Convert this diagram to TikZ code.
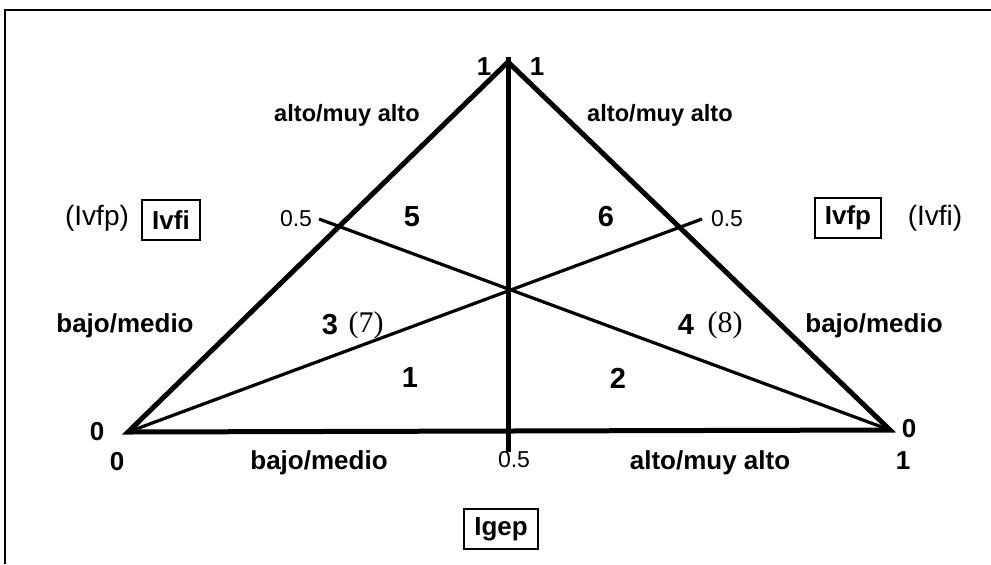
\documentclass[tikz,border=0pt]{standalone}
\usepackage{fontspec}
\setmainfont{Liberation Sans}
\newfontfamily\timesfont{Liberation Serif}

\begin{document}
\begin{tikzpicture}[x=0.5pt, y=-0.5pt,
  edge/.style={line width=2.5pt},
  split/.style={line width=1.6pt},
  lbl/.style={font=\fontsize{13}{15}\selectfont\bfseries},
  toplbl/.style={font=\fontsize{11.8}{14}\selectfont\bfseries},
  zone/.style={font=\fontsize{14.5}{17}\selectfont\bfseries},
  tick/.style={font=\fontsize{11.5}{13}\selectfont},
  alt/.style={font=\fontsize{14}{16}\selectfont},
  altserif/.style={font=\fontsize{15}{17}\selectfont\timesfont},
  axisbox/.style={draw, line width=1pt, font=\fontsize{13}{15}\selectfont\bfseries,
    minimum height=20pt, inner xsep=5pt, inner ysep=0pt}]
\useasboundingbox (0,0) rectangle (991,564);
\fill[white] (0,0) rectangle (991,564);
\draw[line width=1pt] (5,564) -- (5,10) -- (991,10);

\coordinate (apex) at (508,62);
\coordinate (left) at (128,432);
\coordinate (right) at (890,430);
\coordinate (tickL) at (319,219);
\coordinate (tickR) at (702,219);
\coordinate (midtop) at (508,57);
\coordinate (midbot) at (508,452);

\draw[edge] (left) -- (apex) -- (right) -- cycle;
\draw[edge] (midtop) -- (midbot);
\draw[split] (left) -- (tickR);
\draw[split] (right) -- (tickL);

\node[lbl] (oneL) at (484,67) {1};
\node[lbl] (oneR) at (537,67) {1};
\node[toplbl] (highL) at (347,115) {alto/muy alto};
\node[toplbl] (highR) at (660,115) {alto/muy alto};

\node[alt] (ivfpL) at (97,218) {(Ivfp)};
\node[axisbox] (ivfi) at (171,220) {Ivfi};
\node[tick] (halfL) at (296,219) {0.5};
\node[zone] (z5) at (412,217) {5};
\node[zone] (z6) at (606,217) {6};
\node[tick] (halfR) at (727,219) {0.5};
\node[axisbox] (ivfp) at (848,218) {Ivfp};
\node[alt] (ivfiR) at (935,218) {(Ivfi)};

\node[lbl] (lowL) at (125,326) {bajo/medio};
\node[zone] (z3) at (330,325) {3};
\node[altserif] (z7) at (366,325) {(7)};
\node[zone] (z4) at (686,325) {4};
\node[altserif] (z8) at (725,325) {(8)};
\node[lbl] (lowR) at (874,326) {bajo/medio};

\node[zone] (z1) at (410,378) {1};
\node[zone] (z2) at (618,378) {2};

\node[lbl] (zeroL) at (97,432) {0};
\node[lbl] (zeroR) at (909,429) {0};
\node[lbl] (zeroB) at (117,462) {0};
\node[lbl] (lowB) at (319,463) {bajo/medio};
\node[tick] (halfB) at (514,460) {0.5};
\node[lbl] (highB) at (710,463) {alto/muy alto};
\node[lbl] (oneB) at (903,461) {1};

\node[axisbox] (igep) at (501,529) {Igep};
\end{tikzpicture}
\end{document}
